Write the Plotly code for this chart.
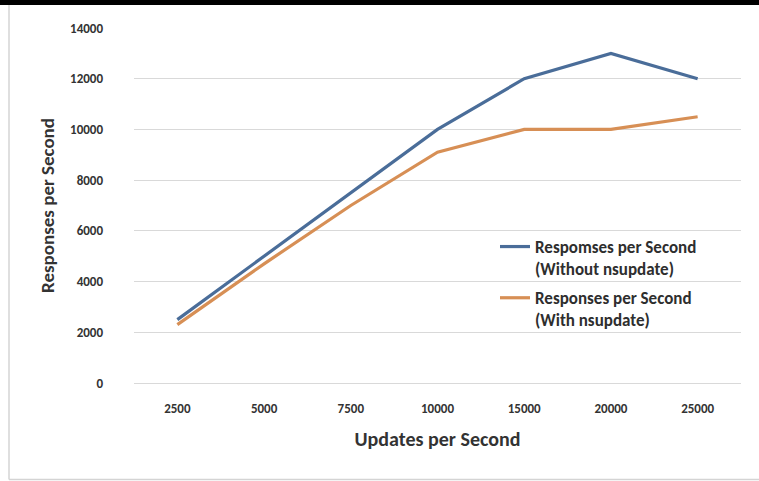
import plotly.graph_objects as go

# Offered update load (categorical x axis)
updates = ["2500", "5000", "7500", "10000", "15000", "20000", "25000"]

# Measured query responses per second
resp_without = [2500, 5000, 7500, 10000, 12000, 13000, 12000]
resp_with = [2300, 4700, 7000, 9100, 10000, 10000, 10500]

y_ticks = [0, 2000, 4000, 6000, 8000, 10000, 12000, 14000]

FONT = "Carlito, 'Liberation Sans Narrow', 'Open Sans', sans-serif"
BLUE = "#4a6d99"
ORANGE = "#d78f55"

W, H = 759, 481
L, R, T, B = 134, 18, 28, 98
PW, PH = W - L - R, H - T - B


def px_x(px):
    return (px - L) / PW


def px_y(py):
    return (H - B - py) / PH


fig = go.Figure()
fig.add_trace(go.Scatter(
    x=updates, y=resp_without, mode="lines",
    name="Respomses per Second<br>(Without nsupdate)",
    legendgroup="a",
    line=dict(color=BLUE, width=3.2),
))
fig.add_trace(go.Scatter(
    x=updates, y=resp_with, mode="lines",
    name="Responses per Second<br>(With nsupdate)",
    legendgroup="b",
    line=dict(color=ORANGE, width=3.2),
))

# black band along the top edge
fig.add_shape(type="rect", xref="paper", yref="paper",
              x0=px_x(-5), x1=px_x(W + 5), y0=px_y(5), y1=px_y(-5),
              line=dict(width=0), fillcolor="black", layer="above")
# light frame: left and bottom edges
fig.add_shape(type="line", xref="paper", yref="paper",
              x0=px_x(9), x1=px_x(9), y0=px_y(5), y1=px_y(479.5),
              line=dict(color="#d4d4d4", width=1.5))
fig.add_shape(type="line", xref="paper", yref="paper",
              x0=px_x(9), x1=px_x(W + 5), y0=px_y(479.5), y1=px_y(479.5),
              line=dict(color="#d4d4d4", width=1.5))

fig.update_layout(
    width=W, height=H,
    margin=dict(l=L, r=R, t=T, b=B),
    paper_bgcolor="white", plot_bgcolor="white",
    font=dict(family=FONT, size=13, color="#333333"),
    showlegend=True,
    legend=dict(
        x=px_x(495), y=px_y(229), xanchor="left", yanchor="top",
        bgcolor="rgba(255,255,255,0)",
        font=dict(family=FONT, size=17, color="#2e2e2e", weight="bold"),
        valign="top", traceorder="grouped", tracegroupgap=4,
    ),
    xaxis=dict(
        type="category", range=[-0.5, 6.5],
        showgrid=False, showline=False, ticks="",
        ticklabelstandoff=16,
        tickfont=dict(family=FONT, size=13, color="#333333", weight="bold"),
        title=dict(text="Updates per Second", standoff=16,
                   font=dict(family=FONT, size=20, color="#333333",
                             weight="bold")),
    ),
    yaxis=dict(
        range=[0, 14000], tickvals=y_ticks, tickformat="d",
        showgrid=True, gridcolor="#d9d9d9", gridwidth=1,
        zeroline=True, zerolinecolor="#d9d9d9", zerolinewidth=1,
        ticks="", ticklabelstandoff=30,
        tickfont=dict(family=FONT, size=13, color="#333333", weight="bold"),
        title=dict(text="Responses per Second", standoff=10,
                   font=dict(family=FONT, size=19, color="#333333",
                             weight="bold")),
    ),
)

fig.write_html("out.html")
